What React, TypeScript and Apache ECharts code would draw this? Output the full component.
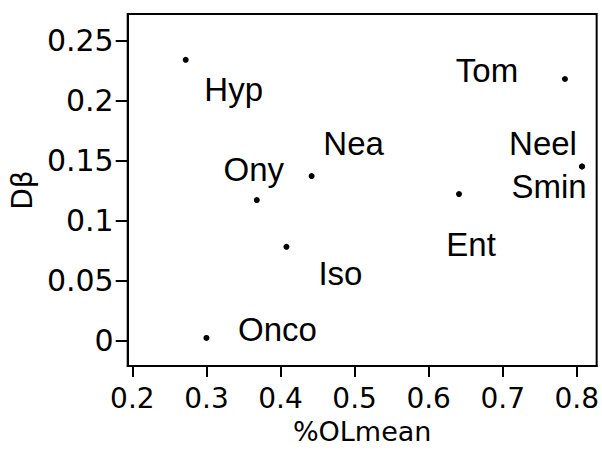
import React, { useEffect, useRef } from "react";
import * as echarts from "echarts";

const names = ["Hyp", "Onco", "Ony", "Nea", "Iso", "Tom", "Neel", "Smin", "Ent"];
const olMean = [0.272, 0.3, 0.368, 0.442, 0.408, 0.784, 0.807, 0.807, 0.641];
const dBeta = [0.234, 0.002, 0.117, 0.137, 0.078, 0.218, 0.145, 0.145, 0.122];
const xTicks = [0.2, 0.3, 0.4, 0.5, 0.6, 0.7, 0.8];
const yTicks = [0, 0.05, 0.1, 0.15, 0.2, 0.25];

const labelOffsets: Record<string, [number, number]> = {
  Hyp: [48, 30],
  Nea: [42, -33],
  Ony: [-3, -31],
  Iso: [54, 27],
  Onco: [71, -8],
  Tom: [-78, -8],
  Neel: [-39, -23],
  Smin: [-33, 20],
  Ent: [12, 50],
};

export default function App() {
  const ref = useRef<HTMLDivElement>(null);
  useEffect(() => {
    if (!ref.current) return;
    const chart = echarts.init(ref.current, null, { renderer: "svg" });
    const font = { fontFamily: "DejaVu Sans", color: "#000" };
    chart.setOption({
      animation: false,
      grid: {
        left: 126,
        top: 14,
        right: 5,
        bottom: 79,
        show: true,
        borderColor: "#000",
        borderWidth: 2,
        backgroundColor: "#fff",
      },
      xAxis: {
        type: "value",
        min: 0.1937,
        max: 0.8268,
        name: "%OLmean",
        nameLocation: "middle",
        nameGap: 52,
        nameTextStyle: { ...font, fontSize: 27 },
        axisLine: { show: true, onZero: false, lineStyle: { color: "#000", width: 2 } },
        axisTick: { show: true, length: 11, lineStyle: { color: "#000", width: 2 }, customValues: xTicks },
        axisLabel: { ...font, fontSize: 28, margin: 18, customValues: xTicks },
        splitLine: { show: false },
      },
      yAxis: {
        type: "value",
        min: -0.0214,
        max: 0.2722,
        name: "Dβ",
        nameLocation: "middle",
        nameGap: 89,
        nameRotate: 90,
        nameTextStyle: { ...font, fontSize: 28 },
        axisLine: { show: true, onZero: false, lineStyle: { color: "#000", width: 2 } },
        axisTick: { show: true, length: 12, lineStyle: { color: "#000", width: 2 }, customValues: yTicks },
        axisLabel: { ...font, fontSize: 30, margin: 14, customValues: yTicks },
        splitLine: { show: false },
      },
      series: [
        {
          type: "scatter",
          symbol: "circle",
          symbolSize: 6,
          itemStyle: { color: "#000", opacity: 1 },
          label: {
            show: true,
            color: "#000",
            fontFamily: "Liberation Sans",
            fontSize: 33,
          },
          data: names.map((n, i) => ({
            name: n,
            value: [olMean[i], dBeta[i]],
            label: {
              show: true,
              position: [3, 3],
              offset: labelOffsets[n],
              formatter: n,
              fontFamily: "Liberation Sans",
              fontSize: 33,
              color: "#000",
              textBorderWidth: 0,
              align: "center",
              verticalAlign: "middle",
            },
          })),
        },
      ],
    });
    return () => chart.dispose();
  }, []);
  return <div ref={ref} style={{ width: 602, height: 450, position: "absolute", left: 0, top: 0 }} />;
}
